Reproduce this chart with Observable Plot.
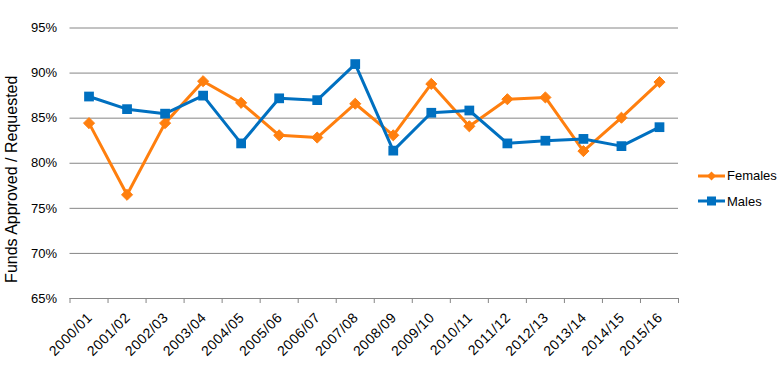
<!DOCTYPE html>
<html>
<head>
<meta charset="utf-8">
<script src="https://cdn.jsdelivr.net/npm/d3@7"></script>
<script src="https://cdn.jsdelivr.net/npm/@observablehq/plot@0.6"></script>
<style>
  html, body { margin: 0; padding: 0; background: #fff; }
  #wrap { position: relative; width: 783px; height: 384px; }
  .legend { position: absolute; left: 698px; font: 13px "Liberation Sans", Arial, sans-serif; color: #000; display: flex; align-items: center; }
  .legend svg { margin-right: 2px; }
  .xlab text { letter-spacing: 0.5px; }
</style>
</head>
<body>
<div id="wrap"></div>
<script>
const years = ["2000/01","2001/02","2002/03","2003/04","2004/05","2005/06","2006/07","2007/08",
               "2008/09","2009/10","2010/11","2011/12","2012/13","2013/14","2014/15","2015/16"];
const females = [84.45, 76.5, 84.45, 89.1, 86.7, 83.1, 82.85, 86.6, 83.1, 88.8, 84.1, 87.1, 87.3, 81.35, 85.05, 89.0];
const males   = [87.4, 86.0, 85.5, 87.5, 82.2, 87.2, 87.0, 91.0, 81.4, 85.6, 85.85, 82.2, 82.5, 82.7, 81.9, 84.0];
const yTicks = [65, 70, 75, 80, 85, 90, 95];
const seriesNames = ["Females", "Males"];
const colors = ["#FF7F0E", "#0070C0"];

const fRows = years.map((y, i) => ({i: i + 0.5, year: y, v: females[i]}));
const mRows = years.map((y, i) => ({i: i + 0.5, year: y, v: males[i]}));

const chart = Plot.plot({
  width: 783,
  height: 384,
  marginLeft: 69.5,
  marginRight: 105,
  marginTop: 27.5,
  marginBottom: 86,
  style: {fontFamily: "Liberation Sans, Arial, sans-serif", fontSize: "12px", background: "#fff"},
  x: {type: "linear", domain: [0, years.length]},
  y: {domain: [65, 95]},
  marks: [
    Plot.gridY(yTicks, {stroke: "#868686", strokeOpacity: 1, strokeWidth: 1}),
    Plot.axisY(yTicks, {tickSize: 0, tickPadding: 13, tickFormat: d => d + "%", fontSize: 13, label: null}),
    Plot.axisX(d3.range(years.length + 1), {tickSize: 5, stroke: "#868686", tickFormat: () => "", label: null}),
    Plot.text(years, {x: (d, i) => i + 0.5, text: d => d, frameAnchor: "bottom", rotate: -45,
      textAnchor: "end", dy: 20, dx: 4, fontSize: 14, className: "xlab"}),
    Plot.text(["Funds Approved / Requested"], {frameAnchor: "left", textAnchor: "middle", dx: -58, dy: 16, rotate: -90, fontSize: 16, text: d => d}),
    Plot.lineY(fRows, {x: "i", y: "v", stroke: colors[0], strokeWidth: 3}),
    Plot.dot(fRows, {x: "i", y: "v", symbol: "diamond2", fill: colors[0], r: 5, stroke: colors[0], strokeWidth: 1}),
    Plot.lineY(mRows, {x: "i", y: "v", stroke: colors[1], strokeWidth: 3}),
    Plot.dot(mRows, {x: "i", y: "v", symbol: "square", fill: colors[1], r: 5.5})
  ]
});
const wrap = document.getElementById("wrap");
wrap.appendChild(chart);

const legendY = [175.5, 201];
seriesNames.forEach((name, k) => {
  const div = document.createElement("div");
  div.className = "legend";
  div.style.top = (legendY[k] - 9) + "px";
  const marker = k === 0
    ? `<polygon points="13.5,4.5 18,9 13.5,13.5 9,9" fill="${colors[0]}"/>`
    : `<rect x="9" y="4.5" width="9" height="9" fill="${colors[1]}"/>`;
  div.innerHTML = `<svg width="27" height="18"><line x1="0" y1="9" x2="27" y2="9" stroke="${colors[k]}" stroke-width="3"/>${marker}</svg><span>${name}</span>`;
  wrap.appendChild(div);
});
</script>
</body>
</html>
